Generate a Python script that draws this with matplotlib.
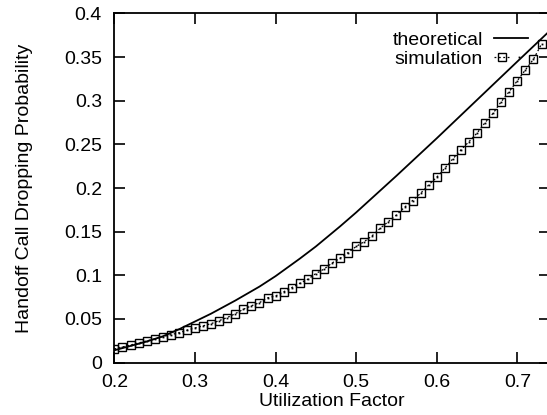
import matplotlib
matplotlib.use("Agg")
import matplotlib.pyplot as plt
from matplotlib.legend_handler import HandlerTuple

plt.rcParams['font.family'] = ['Liberation Sans', 'DejaVu Sans']

# data
x_theory = [0.20, 0.22, 0.24, 0.26, 0.28, 0.30, 0.32, 0.35, 0.38, 0.40, 0.43, 0.45,
            0.48, 0.50, 0.55, 0.60, 0.65, 0.70, 0.74]
y_theory = [0.014, 0.019, 0.024, 0.030, 0.038, 0.047, 0.056, 0.071, 0.087, 0.099, 0.119, 0.133,
            0.156, 0.172, 0.214, 0.257, 0.301, 0.345, 0.380]

x_sim = [round(0.20 + 0.01 * i, 2) for i in range(54)]
y_sim = [0.0155, 0.0178, 0.0200, 0.0224, 0.0247, 0.0270, 0.0296, 0.0319, 0.0340, 0.0370,
         0.0396, 0.0420, 0.0445, 0.0480, 0.0515, 0.0560, 0.0610, 0.0650, 0.0686, 0.0740,
         0.0763, 0.0810, 0.0858, 0.0908, 0.0954, 0.1020, 0.1070, 0.1140, 0.1195, 0.1260,
         0.1330, 0.1385, 0.1454, 0.1540, 0.1615, 0.1690, 0.1780, 0.1856, 0.1940, 0.2035,
         0.2124, 0.2227, 0.2335, 0.2437, 0.2532, 0.2630, 0.2750, 0.2858, 0.2990, 0.3106,
         0.3230, 0.3354, 0.3477, 0.3650]

x_ticks = [0.2, 0.3, 0.4, 0.5, 0.6, 0.7]
x_ticklabels = ["0.2", "0.3", "0.4", "0.5", "0.6", "0.7"]
y_ticks = [0, 0.05, 0.1, 0.15, 0.2, 0.25, 0.3, 0.35, 0.4]
y_ticklabels = ["0", "0.05", "0.1", "0.15", "0.2", "0.25", "0.3", "0.35", "0.4"]

W, H = 547, 415
fig = plt.figure(figsize=(W / 100, H / 100), dpi=100)
left, right, top, bottom = 114.4, 549.6, 13.5, 362.5
ax = fig.add_axes([left / W, (H - bottom) / H, (right - left) / W, (bottom - top) / H])

fs = 14
l_th, = ax.plot(x_theory, y_theory, color='black', lw=1.3, label='theoretical')
l_sim, = ax.plot(x_sim, y_sim, color='black', lw=0.9, linestyle=(0, (1.5, 2.0)),
                 marker='s', markersize=6.2, markerfacecolor='none',
                 markeredgecolor='black', markeredgewidth=1.0)
l_dot, = ax.plot(x_sim, y_sim, linestyle='none', marker='s', markersize=1.3,
                 color='black', markeredgewidth=0)

ax.set_xlim(0.2, 0.74)
ax.set_ylim(0, 0.4)
ax.set_xticks(x_ticks)
ax.set_xticklabels(x_ticklabels)
ax.set_yticks(y_ticks)
ax.set_yticklabels(y_ticklabels)
ax.tick_params(direction='in', top=True, right=True, length=8, width=1.2,
               labelsize=fs)
ax.tick_params(axis='x', pad=8)
ax.tick_params(axis='y', pad=9)
for s in ax.spines.values():
    s.set_linewidth(1.3)

ax.set_xlabel("Utilization Factor", fontsize=fs, labelpad=2)
ax.set_ylabel("Handoff Call Dropping Probability", fontsize=fs, labelpad=22)

ax.legend([l_th, (l_sim, l_dot)], ['theoretical', 'simulation'],
          handler_map={tuple: HandlerTuple(ndivide=None, pad=0)},
          loc='upper right', bbox_to_anchor=(0.950, 0.950), frameon=False,
          markerfirst=False, fontsize=fs, handlelength=1.75, handletextpad=0.55,
          labelspacing=0.1, borderpad=0, borderaxespad=0, numpoints=1)

fig.savefig("out.png", dpi=100)
